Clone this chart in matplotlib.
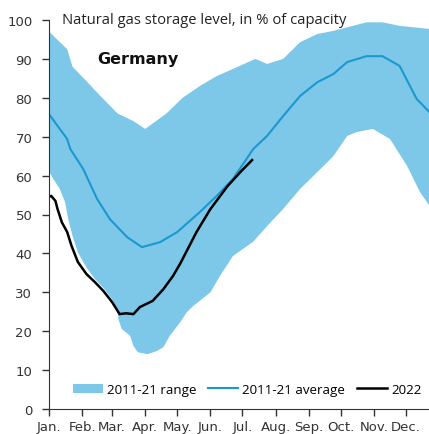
import matplotlib
matplotlib.use("Agg")
import matplotlib.pyplot as plt
import numpy as np

# day of year (0 = 1 Jan) and storage level in % of capacity
range_upper_day = [0, 17, 22, 36, 48, 64, 79, 90, 110, 125, 141, 157, 172, 193,
                   204, 219, 235, 251, 266, 297, 312, 328, 356]
range_upper_val = [97, 92.5, 88, 84, 80.5, 76, 74, 72, 76, 80, 83, 85.6, 87.4, 90,
                   88.7, 90, 94.3, 96.4, 97.2, 99.4, 99.4, 98.5, 97.7]

range_lower_day = [0, 6, 10, 15, 18, 22, 27, 32, 36, 43, 51, 59, 64, 65, 68, 76,
                   79, 83, 92, 101, 107, 113, 123, 129, 135, 141, 151, 160, 172,
                   191, 204, 219, 235, 254, 266, 279, 288, 303, 319, 335, 347, 356]
range_lower_val = [61, 58.3, 56.6, 53.2, 48.8, 44.5, 40.3, 37.8, 36, 33.4, 31.1,
                   28.2, 25.6, 23, 20.6, 18.8, 16.2, 14.6, 14.1, 14.9, 15.9, 18.8,
                   22.4, 24.9, 26.5, 27.8, 30, 34.2, 39.3, 43, 47, 51.4, 56.6, 61.7,
                   65, 70.2, 71.2, 72, 69.4, 62.5, 55.8, 52.2]

avg_day = [0, 17, 20, 32, 45, 57, 73, 87, 104, 120, 141, 157, 172, 191, 204, 219,
           235, 251, 266, 279, 297, 312, 328, 344, 356]
avg_val = [75.8, 69.4, 66.8, 61.7, 54, 48.8, 44.2, 41.6, 42.9, 45.5, 50.6, 54.8,
           59.1, 66.8, 70.2, 75.3, 80.5, 84, 86.1, 89.2, 90.7, 90.7, 88.2, 79.7, 76.3]

y2022_day = [0, 2, 6, 8, 12, 17, 21, 27, 35, 43, 51, 59, 66, 72, 79, 85, 97, 107,
             116, 123, 138, 151, 167, 179, 190]
y2022_val = [54.5, 54.8, 53.5, 51.4, 48, 45.5, 42, 37.8, 34.7, 32.6, 30.3, 27.5,
             24.4, 24.6, 24.4, 26.2, 27.8, 30.8, 34.2, 37.5, 45.5, 51.4, 57.3,
             60.9, 64]

month_starts = [0, 31, 59, 90, 120, 151, 181, 212, 243, 273, 304, 334]
month_labels = ["Jan.", "Feb.", "Mar.", "Apr.", "May.", "Jun.", "Jul.", "Aug.",
                "Sep.", "Oct.", "Nov.", "Dec."]

BAND = "#7DC8E8"
AVG = "#1B98CF"

fig = plt.figure(figsize=(4.29, 4.35), dpi=100)
ax = fig.add_axes([49 / 429, 25 / 435, 380 / 429, 389 / 435])

band_x = np.concatenate([range_upper_day, range_lower_day[::-1]])
band_y = np.concatenate([range_upper_val, range_lower_val[::-1]])
ax.fill(band_x, band_y, color=BAND, lw=0, label="2011-21 range")
ax.plot(avg_day, avg_val, color=AVG, lw=1.5, label="2011-21 average")
ax.plot(y2022_day, y2022_val, color="black", lw=1.8, label="2022")

ax.set_xlim(0, 355.5)
ax.set_ylim(0, 100)
ax.set_yticks(range(0, 101, 10))
ax.set_xticks(month_starts)
ax.set_xticklabels(month_labels)
ax.tick_params(axis="both", labelsize=9.5, colors="#333333", direction="out",
               length=5, width=1)
ax.tick_params(axis="y", pad=7)
ax.tick_params(axis="x", pad=3)
for s in ["top", "right"]:
    ax.spines[s].set_visible(False)
for s in ["left", "bottom"]:
    ax.spines[s].set_color("#333333")

ax.text(0.034, 1.0, "Natural gas storage level, in % of capacity",
        transform=ax.transAxes, ha="left", va="center",
        family="Open Sans", fontsize=10.6, color="#222222")
ax.text(0.126, 0.902, "Germany", transform=ax.transAxes, ha="left",
        va="center", fontsize=11.5, fontweight="bold", family="DejaVu Sans",
        color="#111111")

# legend along the bottom, no frame
ax.legend(loc="lower left", bbox_to_anchor=(0.049, 0.02), ncol=3, frameon=False,
          borderaxespad=0, handlelength=2.25, handletextpad=0.3,
          columnspacing=0.9, prop={"family": "Open Sans", "size": 9.6})

fig.savefig("out.png", dpi=100)
